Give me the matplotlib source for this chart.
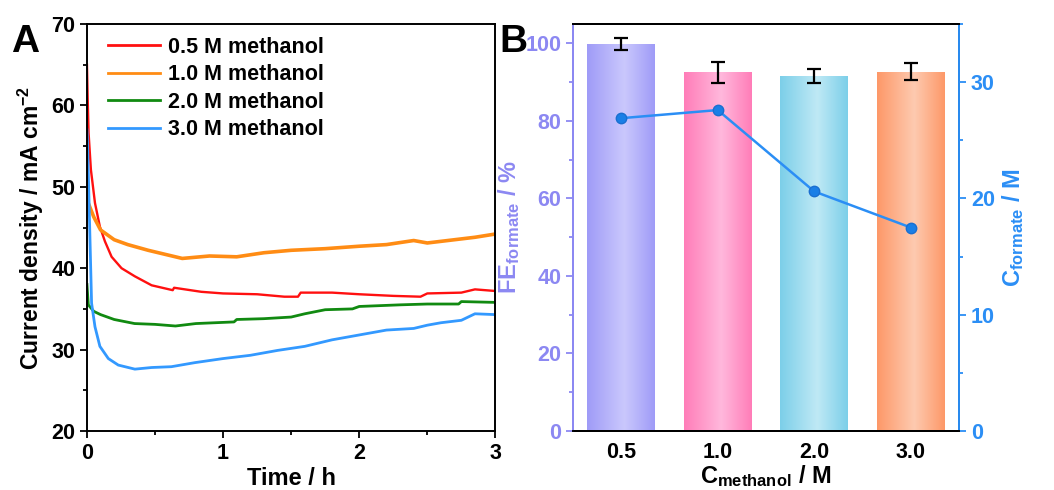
import numpy as np
import matplotlib
matplotlib.use("Agg")
import matplotlib.pyplot as plt
from matplotlib.colors import LinearSegmentedColormap
from matplotlib.ticker import MultipleLocator

plt.rcParams['font.family'] = ['Liberation Sans', 'DejaVu Sans']
plt.rcParams['font.weight'] = 'bold'
plt.rcParams['mathtext.fontset'] = 'custom'
plt.rcParams['mathtext.rm'] = 'Liberation Sans:bold'
plt.rcParams['mathtext.default'] = 'rm'

# ---- panel A: chronoamperometry curves ----
red_t = [0, 0.005, 0.012, 0.029, 0.059, 0.095, 0.132, 0.181, 0.254, 0.352, 0.475, 0.63, 0.64,
         0.84, 1.0, 1.25, 1.45, 1.55, 1.57, 1.8, 2.0, 2.25, 2.45, 2.5, 2.75, 2.85, 3.0]
red_j = [65.0, 61.1, 56.6, 52.1, 48.0, 45.1, 43.3, 41.4, 40.0, 39.0, 37.9, 37.3, 37.6,
         37.1, 36.9, 36.8, 36.5, 36.5, 37.0, 37.0, 36.8, 36.6, 36.5, 36.9, 37.0, 37.4, 37.2]

orange_t = [0, 0.05, 0.1, 0.2, 0.3, 0.45, 0.6, 0.7, 0.9, 1.1, 1.3, 1.5, 1.75, 2.0, 2.2, 2.4,
            2.5, 2.7, 2.85, 3.0]
orange_j = [48.4, 46.3, 44.7, 43.5, 42.9, 42.2, 41.6, 41.2, 41.5, 41.4, 41.9, 42.2, 42.4, 42.7,
            42.9, 43.4, 43.1, 43.5, 43.8, 44.2]

green_t = [0, 0.01, 0.05, 0.1, 0.2, 0.35, 0.5, 0.65, 0.8, 1.08, 1.1, 1.3, 1.5, 1.6, 1.75, 1.95,
           2.0, 2.3, 2.5, 2.73, 2.75, 3.0]
green_j = [38.0, 35.5, 34.7, 34.3, 33.7, 33.2, 33.1, 32.9, 33.2, 33.4, 33.7, 33.8, 34.0, 34.4,
           34.9, 35.0, 35.3, 35.5, 35.6, 35.6, 35.9, 35.8]

blue_t = [0, 0.003, 0.015, 0.034, 0.059, 0.095, 0.157, 0.23, 0.352, 0.475, 0.62, 0.793, 1.0,
          1.2, 1.4, 1.6, 1.8, 2.0, 2.1, 2.2, 2.4, 2.5, 2.6, 2.75, 2.85, 3.0]
blue_j = [57.0, 56.0, 48.4, 35.7, 32.8, 30.4, 28.9, 28.1, 27.6, 27.8, 27.9, 28.4, 28.9,
          29.3, 29.9, 30.4, 31.2, 31.8, 32.1, 32.4, 32.6, 33.0, 33.3, 33.6, 34.4, 34.3]

series_labels = ['0.5 M methanol', '1.0 M methanol', '2.0 M methanol', '3.0 M methanol']

# ---- panel B: Faradaic efficiency and formate concentration ----
conc_labels = ['0.5', '1.0', '2.0', '3.0']
fe_formate = [99.8, 92.5, 91.6, 92.7]
fe_err = [1.6, 2.6, 1.8, 2.2]
c_formate = [26.9, 27.6, 20.6, 17.5]

bar_edge_colors = ['#9f9bf7', '#ff7db8', '#7ccfe9', '#fd9868']
bar_mid_colors = ['#cac8fd', '#ffb8dc', '#bfe9f5', '#fecab0']

purple = '#8c88f2'
blue_axis = '#2b8ef5'

fig = plt.figure(figsize=(10.54, 4.9), dpi=100)
axA = fig.add_axes([0.0825, 0.1204, 0.3875, 0.8306])
axB = fig.add_axes([0.5436, 0.1204, 0.3663, 0.8306])

# Panel A
axA.plot(red_t, red_j, color='#ff1010', lw=1.7, label=series_labels[0])
axA.plot(orange_t, orange_j, color='#ff8c14', lw=2.6, label=series_labels[1])
axA.plot(green_t, green_j, color='#118a11', lw=2.0, label=series_labels[2])
axA.plot(blue_t, blue_j, color='#3399ff', lw=2.0, label=series_labels[3])
axA.set_xlim(0, 3)
axA.set_ylim(20, 70)
axA.xaxis.set_major_locator(MultipleLocator(1))
axA.xaxis.set_minor_locator(MultipleLocator(0.5))
axA.yaxis.set_major_locator(MultipleLocator(10))
axA.yaxis.set_minor_locator(MultipleLocator(5))
axA.tick_params(which='both', direction='out', width=1.3, labelsize=15.5)
axA.tick_params(which='major', length=5)
axA.tick_params(which='minor', length=3)
for s in axA.spines.values():
    s.set_linewidth(1.4)
axA.set_xlabel('Time / h', fontsize=17, fontweight='bold', labelpad=2)
axA.set_ylabel('Current density / mA cm$^{-2}$', fontsize=16.5, fontweight='bold', labelpad=4)
leg = axA.legend(loc='upper left', bbox_to_anchor=(0.02, 1.0), frameon=False, fontsize=15.5,
                 handlelength=2.4, handletextpad=0.4, labelspacing=0.3, borderaxespad=0.2)
for h in leg.get_lines():
    h.set_linewidth(2.0)
fig.text(0.01, 0.894, 'A', fontsize=28, fontweight='bold')

# Panel B
x = np.arange(len(conc_labels))
width = 0.7
bars = axB.bar(x, fe_formate, width, color='none', edgecolor='none', zorder=1)
grad = np.linspace(0, 1, 256).reshape(1, -1)
for i, b in enumerate(bars):
    cmap = LinearSegmentedColormap.from_list(
        'g%d' % i, [(0, bar_edge_colors[i]), (0.55, bar_mid_colors[i]), (1, bar_edge_colors[i])])
    im = axB.imshow(grad, cmap=cmap, aspect='auto', zorder=1,
                    extent=(x[i] - width / 2, x[i] + width / 2, 0, fe_formate[i]))
    im.set_clip_path(b)
axB.errorbar(x, fe_formate, yerr=fe_err, fmt='none', ecolor='black', elinewidth=1.6,
             capsize=5, capthick=1.6, zorder=3)
axB.set_xlim(-0.5, 3.5)
axB.set_ylim(0, 105)
axB.set_xticks(x)
axB.set_xticklabels(conc_labels)
axB.yaxis.set_major_locator(MultipleLocator(20))
axB.yaxis.set_minor_locator(MultipleLocator(10))
axB.tick_params(axis='x', length=0, labelsize=15.5, pad=8)
axB.tick_params(axis='y', which='both', direction='out', width=1.3, colors=purple, labelsize=15.5)
axB.tick_params(axis='y', which='major', length=5)
axB.tick_params(axis='y', which='minor', length=3)
axB.spines['left'].set_color(purple)
for s in axB.spines.values():
    s.set_linewidth(1.4)
axB.set_xlabel('C$_{methanol}$ / M', fontsize=17, fontweight='bold', labelpad=0)
axB.set_ylabel('FE$_{formate}$ / %', fontsize=17, fontweight='bold', color=purple, labelpad=2)

axB2 = axB.twinx()
axB2.plot(x, c_formate, color=blue_axis, lw=1.8, marker='o', markersize=7.5,
          markerfacecolor='#1a7fe6', markeredgecolor='#1a6fd0', zorder=4)
axB2.set_ylim(0, 35)
axB2.yaxis.set_major_locator(MultipleLocator(10))
axB2.yaxis.set_minor_locator(MultipleLocator(5))
axB2.tick_params(axis='y', which='both', direction='out', width=1.3, colors=blue_axis,
                 labelsize=15.5)
axB2.tick_params(axis='y', which='major', length=5)
axB2.tick_params(axis='y', which='minor', length=3)
axB2.spines['right'].set_color(blue_axis)
axB2.spines['left'].set_color(purple)
for s in axB2.spines.values():
    s.set_linewidth(1.4)
axB2.set_ylabel('C$_{formate}$ / M', fontsize=17, fontweight='bold', color=blue_axis, labelpad=4)
fig.text(0.474, 0.894, 'B', fontsize=28, fontweight='bold')

fig.savefig('out.png', dpi=100)
